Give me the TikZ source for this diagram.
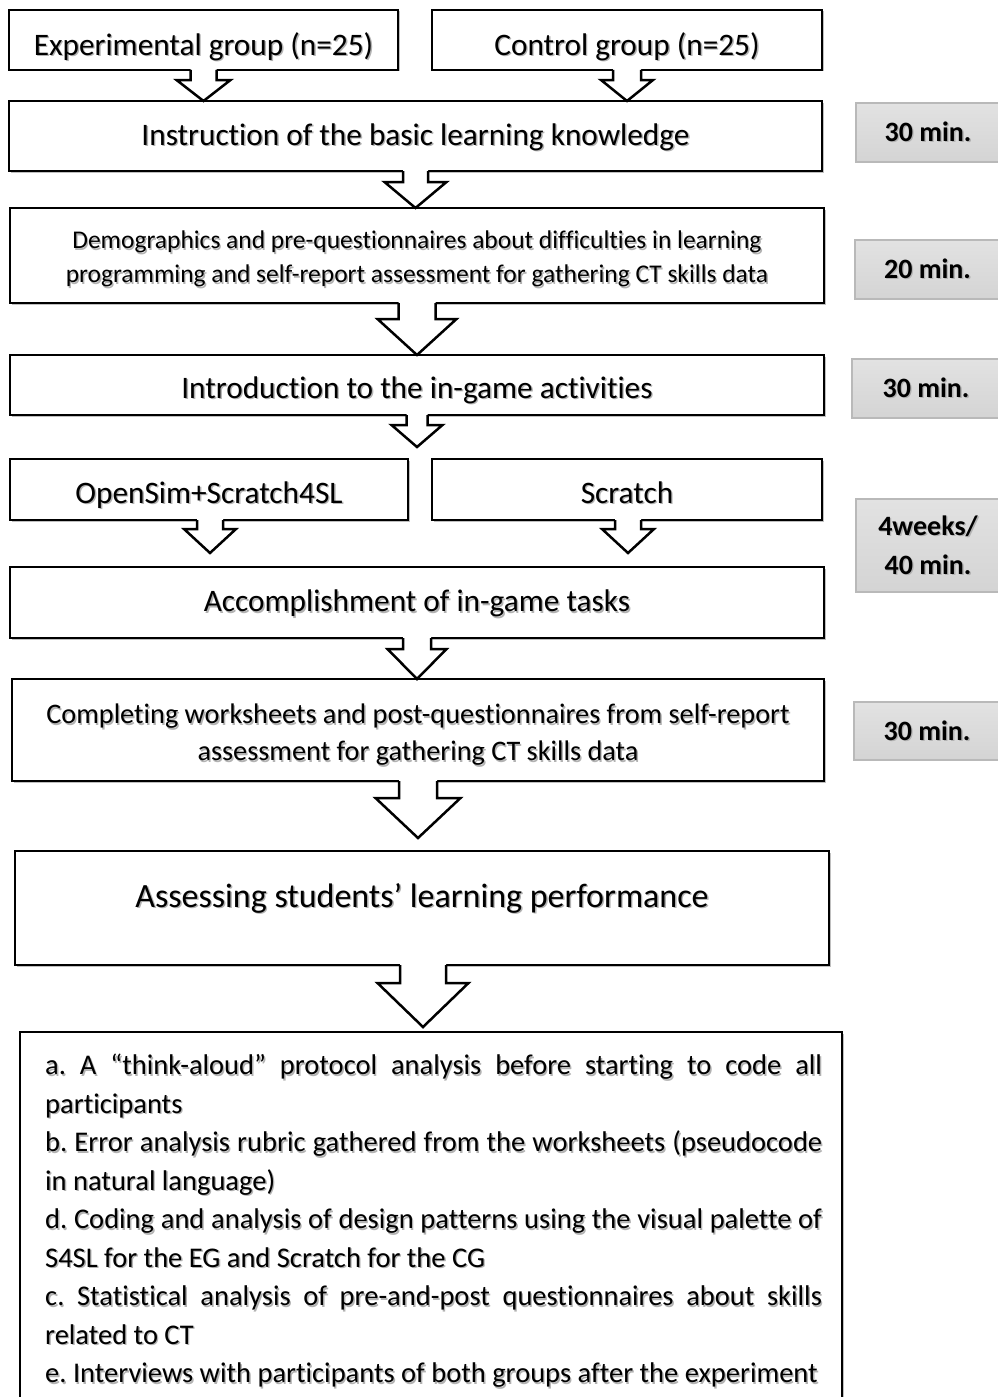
\documentclass[tikz,border=0pt]{standalone}
\usepackage{fontspec}
\setmainfont{Carlito}[Ligatures=NoCommon]
\usetikzlibrary{calc,shadows}

\definecolor{pillfill}{RGB}{212,212,212}
\definecolor{pilltop}{RGB}{226,226,226}
\definecolor{pillline}{RGB}{185,185,185}
\definecolor{textshade}{RGB}{178,178,178}

% text with a soft offset shadow
\newcommand\shadowtext[1]{\makebox[0pt][l]{\kern1.4pt\raisebox{-1.4pt}{\textcolor{textshade}{#1}}}#1}
% lower a label inside its box without changing the box size
\newcommand\lowered[2]{\raisebox{-#1pt}[\height][\depth]{#2}}
% two centred lines
\newcommand\twolines[2]{\begin{tabular}{@{}c@{}}\shadowtext{#1}\\\shadowtext{#2}\end{tabular}}

\tikzset{
  box/.style={draw=black, line width=2.5pt, fill=white, inner sep=0pt, outer sep=0pt,
              align=center, font=\fontsize{31.3}{36}\selectfont,
              drop shadow={shadow xshift=1.5pt, shadow yshift=-1.5pt, fill=black, opacity=0.25}},
  pill/.style={draw=pillline, line width=1.2pt, top color=pilltop, bottom color=pillfill,
               inner sep=0pt, outer sep=0pt, align=center,
               font=\bfseries\fontsize{28}{39}\selectfont},
  arrowline/.style={draw=black, line width=2.5pt, line join=miter},
}

% hollow block arrow hanging from the bottom edge of a box
% #1 source node, #2 tip, #3 shaft half width, #4 head half width, #5 head depth
\newcommand\blockarrow[5]{%
  \fill[white] let \p1=(#2), \p2=(#1.south) in
    (\x1-#3pt,\y2+2pt) -- (\x1-#3pt,\y1+#5pt) -- (\x1-#4pt,\y1+#5pt) -- (\p1)
    -- (\x1+#4pt,\y1+#5pt) -- (\x1+#3pt,\y1+#5pt) -- (\x1+#3pt,\y2+2pt) -- cycle;
  \draw[arrowline] let \p1=(#2), \p2=(#1.south) in
    (\x1-#3pt,\y2) -- (\x1-#3pt,\y1+#5pt) -- (\x1-#4pt,\y1+#5pt) -- (\p1)
    -- (\x1+#4pt,\y1+#5pt) -- (\x1+#3pt,\y1+#5pt) -- (\x1+#3pt,\y2);
}

\begin{document}
\begin{tikzpicture}[x=1pt,y=-1pt]
\useasboundingbox (0,0) rectangle (998,1397);
\clip (0,0) rectangle (998,1397);

% ---- process boxes ----
\node[box, minimum width=389pt, minimum height=60pt] (eg) at (203.5,40)
  {\lowered{7}{\shadowtext{Experimental group (n=25)}}};
\node[box, minimum width=390pt, minimum height=60pt] (cg) at (627,40)
  {\lowered{7}{\shadowtext{Control group (n=25)}}};
\node[box, minimum width=813pt, minimum height=70pt] (instr) at (415.5,136)
  {\lowered{2}{\shadowtext{Instruction of the basic learning knowledge}}};
\node[box, minimum width=814pt, minimum height=95pt, font=\fontsize{25.5}{34}\selectfont] (demo) at (417,255.5)
  {\lowered{3.5}{\twolines{Demographics and pre-questionnaires about difficulties in learning}{programming and self-report assessment for gathering CT skills data}}};
\node[box, minimum width=814pt, minimum height=60pt] (intro) at (417,385)
  {\lowered{6}{\shadowtext{Introduction to the in-game activities}}};
\node[box, minimum width=398pt, minimum height=61pt] (opensim) at (209,489.5)
  {\lowered{6}{\shadowtext{OpenSim+Scratch4SL}}};
\node[box, minimum width=390pt, minimum height=61pt] (scratch) at (627,489.5)
  {\lowered{4}{\shadowtext{Scratch}}};
\node[box, minimum width=814pt, minimum height=71pt] (acc) at (417,602.5)
  {\lowered{2}{\shadowtext{Accomplishment of in-game tasks}}};
\node[box, minimum width=812pt, minimum height=102pt, font=\fontsize{28.3}{37}\selectfont] (compl) at (418,730)
  {\lowered{5}{\twolines{Completing worksheets and post-questionnaires from self-report}{assessment for gathering CT skills data}}};
\node[box, minimum width=814pt, minimum height=114pt] (assess) at (422,908) {};
\node[font=\fontsize{34}{40}\selectfont, inner sep=0pt] (assesstxt) at (422,899)
  {\shadowtext{Assessing students’ learning performance}};
\node[box, minimum width=822pt, minimum height=400pt] (list) at (431,1232) {};

% list of analyses, with its soft shadow underneath
\tikzset{listtext/.style={anchor=north west, inner sep=0pt, text width=777pt, align=justify,
      font=\fontsize{28.5}{38.5}\selectfont}}
\newcommand\analyses{\frenchspacing
   a. A “think-aloud” protocol analysis before starting to code all\linebreak participants\par
   b. Error analysis rubric gathered from the worksheets (pseudocode\linebreak in natural language)\par
   d. Coding and analysis of design patterns using the visual palette of\linebreak S4SL for the EG and Scratch for the CG\par
   c. Statistical analysis of pre-and-post questionnaires about skills\linebreak related to CT\par
   e. Interviews with participants of both groups after the experiment\par}
\node[listtext, text=textshade] (listshade) at (46.4,1055.4) {\analyses};
\node[listtext] (listtxt) at (45,1054) {\analyses};

% ---- durations ----
\node[pill, minimum width=144pt, minimum height=59pt] (d1) at (928,132.5) {\shadowtext{30 min.}};
\node[pill, minimum width=145pt, minimum height=59pt] (d2) at (927.5,269.5) {\shadowtext{20 min.}};
\node[pill, minimum width=148pt, minimum height=59pt] (d3) at (926,388.5) {\shadowtext{30 min.}};
\node[pill, minimum width=144pt, minimum height=93pt] (d4) at (928,545.5) {\shadowtext{4weeks/}\\\shadowtext{40 min.}};
\node[pill, minimum width=146pt, minimum height=58pt] (d5) at (927,731) {\shadowtext{30 min.}};

% ---- free arrow tips ----
\coordinate (tipintro) at (417,447);
\coordinate (tipos) at (210,553);
\coordinate (tipsc) at (628,553);
\coordinate (tipcompl) at (418,838);
\coordinate (tipassess) at (423,1027);

% ---- connectors ----
\blockarrow{eg}{eg.south |- instr.north}{13}{27}{21}
\blockarrow{cg}{cg.south |- instr.north}{14}{26}{21}
\blockarrow{instr}{instr.south |- demo.north}{12.5}{31}{26}
\blockarrow{demo}{demo.south |- intro.north}{18.5}{39.5}{36}
\blockarrow{intro}{tipintro}{10.5}{25.5}{22}
\blockarrow{opensim}{tipos}{13}{26}{24}
\blockarrow{scratch}{tipsc}{13}{26}{24}
\blockarrow{acc}{acc.south |- compl.north}{14}{29.5}{30}
\blockarrow{compl}{tipcompl}{19}{42.5}{40}
\blockarrow{assess}{tipassess}{23}{45.5}{44}
\end{tikzpicture}
\end{document}
